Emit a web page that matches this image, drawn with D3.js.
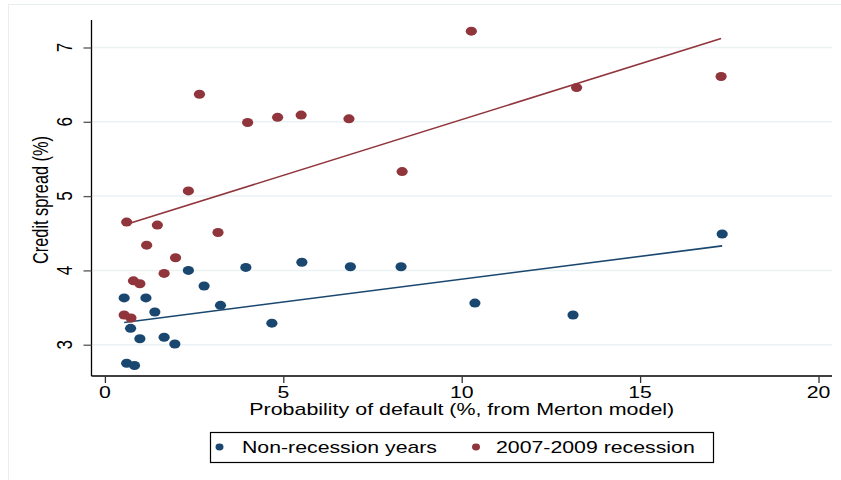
<!DOCTYPE html>
<html>
<head>
<meta charset="utf-8">
<script src="https://cdn.jsdelivr.net/npm/d3@7"></script>
<style>
  html, body { margin: 0; padding: 0; background: #ffffff; }
  svg { display: block; }
  text { font-family: "Liberation Sans", Arial, sans-serif; fill: #000; }
</style>
</head>
<body>
<svg id="chart" width="841" height="480"></svg>
<script>
// ---- data ----
const nonRecX = [0.54, 1.15, 1.40, 2.34, 2.78, 3.24, 3.95, 4.68, 0.72, 0.98, 1.66, 1.96, 0.61, 0.83, 5.52, 6.88, 8.30, 10.37, 13.12, 17.30];
const nonRecY = [3.63, 3.63, 3.44, 4.00, 3.79, 3.53, 4.04, 3.29, 3.22, 3.08, 3.10, 3.01, 2.75, 2.72, 4.11, 4.05, 4.05, 3.56, 3.40, 4.49];
const recX = [2.65, 4.00, 4.84, 5.50, 6.84, 8.33, 10.27, 13.22, 17.27, 2.34, 0.61, 1.47, 1.17, 3.17, 1.98, 1.66, 0.80, 0.98, 0.54, 0.73];
const recY = [6.37, 5.99, 6.06, 6.09, 6.04, 5.33, 7.22, 6.46, 6.61, 5.07, 4.65, 4.61, 4.34, 4.51, 4.17, 3.96, 3.86, 3.82, 3.40, 3.36];
const nonRecFitX = [0.54, 17.30];
const nonRecFitY = [3.30, 4.33];
const recFitX = [0.54, 17.27];
const recFitY = [4.61, 7.12];
const xTicks = [0, 5, 10, 15, 20];
const yTicks = [3, 4, 5, 6, 7];
const seriesNames = ["Non-recession years", "2007-2009 recession"];
const seriesColors = ["#1a476f", "#90353b"];
const xTitle = "Probability of default (%, from Merton model)";
const yTitle = "Credit spread (%)";

// ---- layout ----
const svg = d3.select("#chart");
const pL = 91.5, pR = 832, pT = 20, pB = 376;
const SX = 1.25; // horizontal stretch of the reference
const x = d3.scaleLinear().domain([-0.3756, 20.378]).range([pL, pR]);
const y = d3.scaleLinear().domain([2.579, 7.370]).range([pB, pT]);

// outer frame
svg.append("rect").attr("x", 8.5).attr("y", 4.5).attr("width", 900).attr("height", 600)
  .attr("fill", "none").attr("stroke", "#e6eeee").attr("stroke-width", 1);

// gridlines
svg.append("g").selectAll("line").data(yTicks).join("line")
  .attr("x1", pL).attr("x2", pR)
  .attr("y1", d => y(d)).attr("y2", d => y(d))
  .attr("stroke", "#eaf2f3").attr("stroke-width", 1.5);

// y axis
const yAxis = svg.append("g").attr("transform", `translate(${pL},0)`)
  .call(d3.axisLeft(y).tickValues(yTicks).tickSize(8).tickFormat(""));
yAxis.select(".domain").attr("d", `M0,${pT}V${pB}`).attr("stroke", "#000").attr("stroke-width", 1.3);
yAxis.selectAll(".tick line").attr("stroke", "#555").attr("stroke-width", 1.3);
svg.append("g").selectAll("text").data(yTicks).join("text")
  .attr("transform", d => `translate(72,${y(d)}) scale(${SX},1) rotate(-90)`)
  .attr("text-anchor", "middle")
  .style("font-size", "17px")
  .text(d => d);

// x axis
const xAxis = svg.append("g").attr("transform", `translate(0,${pB})`)
  .call(d3.axisBottom(x).tickValues(xTicks).tickSize(7).tickFormat(""));
xAxis.select(".domain").attr("d", `M${pL},0H${pR}`).attr("stroke", "#000").attr("stroke-width", 1.3);
xAxis.selectAll(".tick line").attr("stroke", "#333").attr("stroke-width", 1.3);
svg.append("g").selectAll("text").data(xTicks).join("text")
  .attr("transform", d => `translate(${x(d)},398) scale(${SX},1)`)
  .attr("text-anchor", "middle")
  .style("font-size", "17px")
  .text(d => d);

// axis titles
svg.append("text")
  .attr("transform", `translate(${(pL + pR) / 2},415) scale(${SX},1)`)
  .attr("text-anchor", "middle")
  .style("font-size", "17px")
  .attr("textLength", 340).attr("lengthAdjust", "spacingAndGlyphs")
  .text(xTitle);
svg.append("text")
  .attr("transform", `translate(48,${(pT + pB) / 2 + 2}) scale(${SX},1) rotate(-90)`)
  .attr("text-anchor", "middle")
  .style("font-size", "17px")
  .attr("textLength", 128).attr("lengthAdjust", "spacingAndGlyphs")
  .text(yTitle);

// fit lines
const line = d3.line().x(d => x(d[0])).y(d => y(d[1]));
const fits = [d3.zip(nonRecFitX, nonRecFitY), d3.zip(recFitX, recFitY)];
svg.append("g").selectAll("path").data(fits).join("path")
  .attr("d", line).attr("fill", "none")
  .attr("stroke", (d, i) => seriesColors[i]).attr("stroke-width", 1.6);

// markers
const series = [d3.zip(nonRecX, nonRecY), d3.zip(recX, recY)];
series.forEach((pts, i) => {
  svg.append("g").selectAll("ellipse").data(pts).join("ellipse")
    .attr("cx", d => x(d[0])).attr("cy", d => y(d[1]))
    .attr("rx", 5.6).attr("ry", 4.5)
    .attr("fill", seriesColors[i]);
});

// legend
const lg = svg.append("g");
lg.append("rect").attr("x", 210.5).attr("y", 432.5).attr("width", 503).attr("height", 30)
  .attr("fill", "#fff").attr("stroke", "#000").attr("stroke-width", 1.2);
const legX = [219.5, 476];
const legTextX = [242, 496];
const legTextW = [156, 159];
seriesNames.forEach((name, i) => {
  lg.append("ellipse").attr("cx", legX[i]).attr("cy", 447).attr("rx", 4).attr("ry", 3.4)
    .attr("fill", seriesColors[i]);
  lg.append("text")
    .attr("transform", `translate(${legTextX[i]},453) scale(${SX},1)`)
    .style("font-size", "17px")
    .attr("textLength", legTextW[i]).attr("lengthAdjust", "spacingAndGlyphs")
    .text(name);
});
</script>
</body>
</html>
